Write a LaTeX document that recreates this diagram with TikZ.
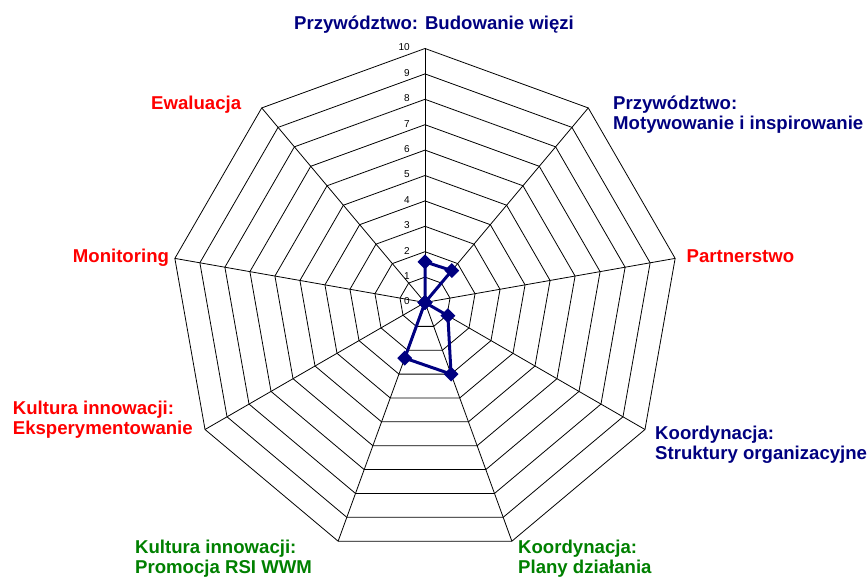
\documentclass[tikz,border=0pt]{standalone}
\usepackage{fontspec}
\setmainfont{Liberation Sans}
\usetikzlibrary{shapes.geometric,calc}
\definecolor{navy}{RGB}{0,0,128}
\definecolor{lblred}{RGB}{255,0,0}
\definecolor{lblgreen}{RGB}{0,128,0}
\begin{document}
\begin{tikzpicture}[x=1pt,y=-1pt,
  grid/.style={black, line width=0.8pt, line join=miter},
  lbl/.style={font=\fontsize{18.6}{20}\selectfont\bfseries, inner sep=0pt, align=left},
  tick/.style={font=\fontsize{10}{12}\selectfont, inner sep=0pt, anchor=east},
  datapt/.style={diamond, fill=navy, inner sep=0pt, minimum size=15pt},
  dataline/.style={navy, line width=3pt, line join=round}]
\useasboundingbox (0,0) rectangle (868,578);
\coordinate (c) at (425,302.5);
% rings
\foreach \r in {1,...,10}{
  \pgfmathsetmacro{\R}{\r*25.4}
  \draw[grid,shift={(c)}] (-90:\R) \foreach \k in {1,...,8}{ -- ({40*\k-90}:\R)} -- cycle;
}
% spokes
\foreach \k in {0,...,8}{
  \coordinate (v\k) at ($(c)+({40*\k-90}:254)$);
  \draw[grid] (c) -- (v\k);
}
% tick labels
\foreach \r in {0,...,10}{
  \node[tick] (t\r) at (410,{301.5-\r*25.4}) {\r};
}
% data
\def\vals{{1.6,1.64,0,1.04,3.0,2.33,0,0,0}}
\foreach \k in {0,...,8}{
  \pgfmathsetmacro{\v}{\vals[\k]*25.4}
  \coordinate (p\k) at ($(c)+({40*\k-90}:\v)$);
}
\draw[dataline] (p0) -- (p1) -- (p2) -- (p3) -- (p4) -- (p5) -- (p6) -- (p7) -- (p8) -- cycle;
\foreach \k in {0,...,8}{
  \node[datapt] (d\k) at (p\k) {};
}
% labels (multi-line nodes: base anchor = last line)
\node[lbl, text=navy, anchor=base] (l0) at (434,29.5) {Przywództwo: Budowanie więzi};
\node[lbl, text=navy, anchor=base west] (l1) at (613,129.5) {Przywództwo:\\Motywowanie i inspirowanie};
\node[lbl, text=lblred, anchor=base west] (l2) at (686.5,262.7) {Partnerstwo};
\node[lbl, text=navy, anchor=base west] (l3) at (655,459.4) {Koordynacja:\\Struktury organizacyjne};
\node[lbl, text=lblgreen, anchor=base west] (l4) at (518,573.7) {Koordynacja:\\Plany działania};
\node[lbl, text=lblgreen, anchor=base west] (l5) at (135,573.7) {Kultura innowacji:\\Promocja RSI WWM};
\node[lbl, text=lblred, anchor=base west] (l6) at (12.7,434.4) {Kultura innowacji:\\Eksperymentowanie};
\node[lbl, text=lblred, anchor=base west] (l7) at (72.7,262.7) {Monitoring};
\node[lbl, text=lblred, anchor=base west] (l8) at (151,110) {Ewaluacja};
\end{tikzpicture}
\end{document}
